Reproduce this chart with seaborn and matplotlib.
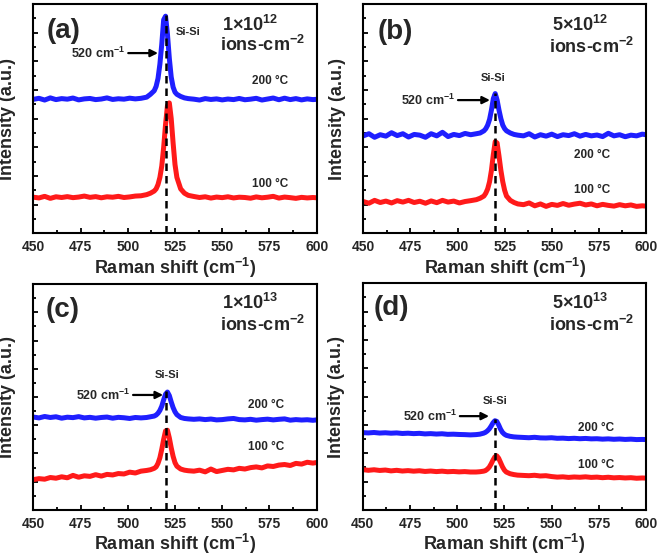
import matplotlib
matplotlib.use("Agg")
import matplotlib.pyplot as plt
import seaborn as sns
from matplotlib.ticker import MultipleLocator

# ---------------- data ----------------
raman_shift = [450, 453, 456, 459, 462, 465, 468, 471, 474, 477, 480, 483, 486, 489, 492, 495, 498, 501, 504, 507,
               510, 512, 514, 515, 516, 517, 518, 519, 520, 521, 522, 523, 524, 525, 526, 528, 530, 532,
               535, 538, 541, 544, 547, 550, 553, 556, 559, 562, 565, 568, 571, 574, 577, 580, 583, 586, 589, 592,
               595, 598, 600]

a_200 = [9.35, 9.42, 9.30, 9.45, 9.33, 9.40, 9.36, 9.44, 9.31, 9.38, 9.41, 9.33, 9.37, 9.45, 9.34, 9.39, 9.36, 9.43, 9.38, 9.42,
         9.50, 9.70, 9.95, 10.25, 10.80, 11.80, 13.20, 14.90, 15.15, 13.90, 12.20, 10.90, 10.20, 9.85, 9.70, 9.55, 9.45, 9.40,
         9.36, 9.30, 9.40, 9.34, 9.38, 9.31, 9.37, 9.33, 9.41, 9.32, 9.36, 9.42, 9.30, 9.37, 9.44, 9.32, 9.43, 9.33, 9.40, 9.31,
         9.38, 9.33, 9.35]
a_100 = [2.52, 2.47, 2.58, 2.44, 2.55, 2.50, 2.56, 2.49, 2.53, 2.60, 2.51, 2.56, 2.48, 2.55, 2.52, 2.58, 2.50, 2.54, 2.60, 2.62,
         2.70, 2.80, 2.95, 3.10, 3.40, 3.90, 4.70, 6.00, 7.60, 8.90, 9.10, 8.00, 6.30, 4.80, 3.90, 3.10, 2.80, 2.65,
         2.57, 2.50, 2.55, 2.46, 2.53, 2.49, 2.55, 2.47, 2.52, 2.50, 2.45, 2.54, 2.48, 2.52, 2.58, 2.46, 2.53, 2.49, 2.44, 2.51,
         2.47, 2.50, 2.48]

b_200 = [6.80, 6.95, 6.70, 6.88, 6.78, 7.02, 6.82, 6.95, 6.72, 6.90, 6.85, 6.70, 6.95, 6.80, 7.05, 6.75, 6.90, 6.82, 6.97, 6.88,
         6.95, 7.00, 7.15, 7.30, 7.55, 7.95, 8.60, 9.40, 9.75, 9.30, 8.60, 8.00, 7.55, 7.30, 7.15, 7.00, 6.90, 6.85,
         6.80, 6.95, 6.72, 6.88, 6.78, 6.92, 6.75, 6.88, 6.82, 6.95, 6.78, 6.90, 6.80, 6.86, 6.75, 6.98, 6.80, 6.88, 6.74, 6.85,
         6.80, 6.92, 6.88]
b_100 = [2.22, 2.10, 2.30, 2.15, 2.25, 2.12, 2.28, 2.18, 2.30, 2.15, 2.24, 2.10, 2.26, 2.14, 2.30, 2.18, 2.25, 2.12, 2.22, 2.28,
         2.35, 2.45, 2.60, 2.80, 3.10, 3.60, 4.40, 5.50, 6.40, 6.30, 5.40, 4.40, 3.60, 3.00, 2.60, 2.30, 2.15, 2.05,
         2.00, 2.12, 1.92, 2.05, 1.88, 2.02, 1.95, 2.08, 1.96, 2.04, 2.10, 1.98, 2.05, 1.92, 2.02, 1.95, 1.90, 2.00, 1.92, 1.98,
         1.88, 1.92, 1.90]

c_200 = [6.58, 6.52, 6.62, 6.55, 6.60, 6.50, 6.57, 6.54, 6.61, 6.52, 6.56, 6.50, 6.55, 6.58, 6.50, 6.56, 6.53, 6.48, 6.55, 6.52,
         6.55, 6.60, 6.65, 6.72, 6.85, 7.05, 7.35, 7.80, 8.20, 8.35, 8.10, 7.65, 7.25, 6.95, 6.75, 6.55, 6.48, 6.45,
         6.42, 6.45, 6.40, 6.44, 6.38, 6.40, 6.45, 6.48, 6.40, 6.38, 6.42, 6.36, 6.40, 6.43, 6.38, 6.42, 6.45, 6.36, 6.40, 6.37,
         6.39, 6.35, 6.38]
c_100 = [2.15, 2.22, 2.18, 2.30, 2.25, 2.35, 2.28, 2.45, 2.32, 2.42, 2.38, 2.50, 2.40, 2.52, 2.48, 2.58, 2.55, 2.68, 2.62, 2.75,
         2.80, 2.85, 2.95, 3.05, 3.30, 3.70, 4.30, 5.00, 5.60, 5.65, 5.10, 4.40, 3.80, 3.35, 3.10, 2.90, 2.82, 2.78,
         2.75, 2.82, 2.70, 2.90, 2.72, 2.80, 2.88, 2.84, 2.95, 2.90, 3.00, 3.05, 2.98, 3.12, 3.08, 3.18, 3.22, 3.15, 3.30, 3.25,
         3.38, 3.32, 3.36]

d_200 = [5.46, 5.44, 5.47, 5.43, 5.45, 5.42, 5.44, 5.40, 5.42, 5.39, 5.41, 5.37, 5.39, 5.36, 5.38, 5.34, 5.35, 5.33, 5.32, 5.30,
         5.32, 5.35, 5.42, 5.48, 5.58, 5.72, 5.92, 6.15, 6.30, 6.25, 6.00, 5.70, 5.48, 5.35, 5.27, 5.20, 5.16, 5.14,
         5.12, 5.10, 5.13, 5.09, 5.08, 5.10, 5.06, 5.07, 5.04, 5.06, 5.03, 5.05, 5.02, 5.03, 5.00, 5.02, 4.99, 5.01, 4.98, 5.00,
         4.97, 4.98, 4.97]
d_100 = [2.85, 2.80, 2.84, 2.79, 2.82, 2.76, 2.80, 2.75, 2.78, 2.74, 2.77, 2.72, 2.75, 2.71, 2.74, 2.70, 2.72, 2.69, 2.71, 2.68,
         2.68, 2.70, 2.74, 2.78, 2.88, 3.02, 3.25, 3.52, 3.75, 3.82, 3.65, 3.35, 3.05, 2.82, 2.68, 2.56, 2.50, 2.46,
         2.44, 2.42, 2.45, 2.40, 2.42, 2.36, 2.32, 2.34, 2.30, 2.33, 2.31, 2.34, 2.30, 2.32, 2.28, 2.31, 2.27, 2.29, 2.26, 2.28,
         2.24, 2.26, 2.25]

panel_tags = ["(a)", "(b)", "(c)", "(d)"]
dose_mantissa = ["1", "5", "1", "5"]
dose_exponent = ["12", "12", "13", "13"]
series_200 = [a_200, b_200, c_200, d_200]
series_100 = [a_100, b_100, c_100, d_100]
si_peak_position = 520
dash_top = [15.2, 9.8, 8.4, 6.4]
temp_labels = ["200 °C", "100 °C"]

# ---------------- style ----------------
sns.set_style("ticks")
plt.rcParams["font.family"] = ["Liberation Sans", "DejaVu Sans"]
plt.rcParams["font.weight"] = "bold"
plt.rcParams["mathtext.fontset"] = "custom"
plt.rcParams["mathtext.rm"] = "Liberation Sans:bold"
plt.rcParams["mathtext.bf"] = "Liberation Sans:bold"
plt.rcParams["mathtext.it"] = "Liberation Sans:bold"

blue = "#1f1fff"
red = "#ff1a1a"

fig = plt.figure(figsize=(6.61, 5.57), dpi=100)

axes_pos = [
    [0.0504, 0.5811, 0.4287, 0.4117],
    [0.5496, 0.5811, 0.4277, 0.4117],
    [0.0504, 0.0844, 0.4287, 0.4057],
    [0.5487, 0.0844, 0.4286, 0.4070],
]

# per-panel text layout (axes fraction)
layout = [
    dict(tag=(0.105, 0.882), dose=(0.765, 0.908), ions=(0.81, 0.823), sisi=(0.546, 0.878),
         arr_y=0.786, arr_x0=0.335, arr_x1=0.44, t200=(0.835, 0.664), t100=(0.835, 0.215)),
    dict(tag=(0.112, 0.878), dose=(0.767, 0.908), ions=(0.809, 0.812), sisi=(0.459, 0.677),
         arr_y=0.581, arr_x0=0.335, arr_x1=0.448, t200=(0.809, 0.341), t100=(0.809, 0.189)),
    dict(tag=(0.105, 0.885), dose=(0.765, 0.916), ions=(0.81, 0.819), sisi=(0.472, 0.597),
         arr_y=0.509, arr_x0=0.352, arr_x1=0.458, t200=(0.822, 0.465), t100=(0.822, 0.279)),
    dict(tag=(0.103, 0.893), dose=(0.768, 0.914), ions=(0.809, 0.817), sisi=(0.467, 0.479),
         arr_y=0.414, arr_x0=0.343, arr_x1=0.446, t200=(0.823, 0.362), t100=(0.823, 0.197)),
]

for i in range(4):
    ax = fig.add_axes(axes_pos[i])
    sns.lineplot(x=raman_shift, y=series_200[i], ax=ax, color=blue, linewidth=3.6, errorbar=None)
    sns.lineplot(x=raman_shift, y=series_100[i], ax=ax, color=red, linewidth=3.6, errorbar=None)
    ax.vlines(si_peak_position, 0, dash_top[i], colors="black", linestyles=(0, (3, 2)), linewidth=1.8, zorder=5)

    ax.set_xlim(450, 600)
    ax.set_ylim(0, 16)
    ax.xaxis.set_major_locator(MultipleLocator(25))
    ax.xaxis.set_minor_locator(MultipleLocator(12.5))
    ax.yaxis.set_major_locator(MultipleLocator(2))
    ax.yaxis.set_minor_locator(MultipleLocator(1))
    ax.tick_params(axis="both", which="both", direction="in", width=1.3, color="black")
    ax.tick_params(axis="both", which="major", length=3.5)
    ax.tick_params(axis="both", which="minor", length=2.5)
    ax.tick_params(axis="x", which="major", labelsize=10, pad=5)
    ax.set_yticklabels([])
    for lab in ax.get_xticklabels():
        lab.set_fontweight("bold")
    for sp in ax.spines.values():
        sp.set_linewidth(1.5)
        sp.set_color("black")

    ax.set_xlabel(r"Raman shift (cm$^{\mathbf{-1}}$)", fontsize=13, fontweight="bold", labelpad=1)
    ax.set_ylabel("Intensity (a.u.)", fontsize=13, fontweight="bold", labelpad=9)

    L = layout[i]
    tr = ax.transAxes
    ax.text(*L["tag"], panel_tags[i], transform=tr, fontsize=20, fontweight="bold", ha="center", va="center")
    ax.text(*L["dose"], dose_mantissa[i] + "×10$^{\\mathbf{" + dose_exponent[i] + "}}$", transform=tr,
            fontsize=13, fontweight="bold", ha="center", va="center")
    ax.text(*L["ions"], r"ions-cm$^{\mathbf{-2}}$", transform=tr, fontsize=13, fontweight="bold",
            ha="center", va="center")
    ax.text(*L["sisi"], "Si-Si", transform=tr, fontsize=8, fontweight="bold", ha="center", va="center")
    ax.text(L["arr_x0"] - 0.01, L["arr_y"], r"520 cm$^{\mathbf{-1}}$", transform=tr, fontsize=9,
            fontweight="bold", ha="right", va="center")
    ax.annotate("", xy=(L["arr_x1"], L["arr_y"]), xytext=(L["arr_x0"], L["arr_y"]),
                xycoords=tr, textcoords=tr,
                arrowprops=dict(arrowstyle="-|>", color="black", lw=1.6, mutation_scale=11,
                                shrinkA=0, shrinkB=0))
    ax.text(*L["t200"], temp_labels[0], transform=tr, fontsize=8.5, fontweight="bold", ha="center", va="center")
    ax.text(*L["t100"], temp_labels[1], transform=tr, fontsize=8.5, fontweight="bold", ha="center", va="center")

fig.savefig("out.png", dpi=100)
